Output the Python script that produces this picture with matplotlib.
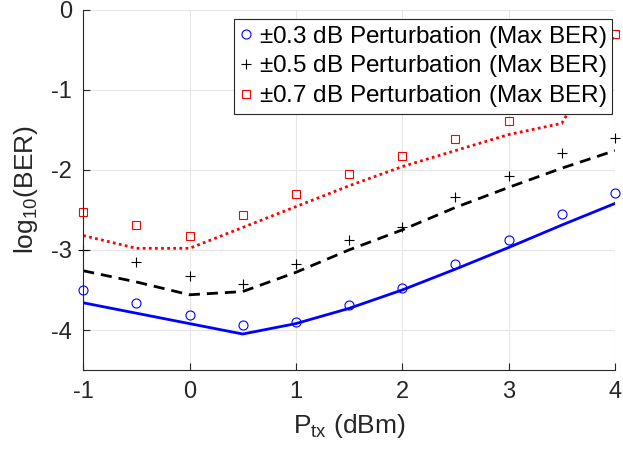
import matplotlib
matplotlib.use('Agg')
from matplotlib import pyplot as plt

plt.rcParams['font.family'] = ['Liberation Sans', 'DejaVu Sans']
plt.rcParams['mathtext.default'] = 'regular'
plt.rcParams['axes.unicode_minus'] = False

# transmit power (dBm)
p_tx = [-1, -0.5, 0, 0.5, 1, 1.5, 2, 2.5, 3, 3.5, 4]

# max BER points (log10)
ber_03 = [-3.50, -3.66, -3.81, -3.94, -3.90, -3.69, -3.47, -3.17, -2.88, -2.55, -2.29]
ber_05 = [-3.00, -3.15, -3.32, -3.43, -3.17, -2.88, -2.72, -2.34, -2.08, -1.79, -1.60]
ber_07 = [-2.53, -2.69, -2.83, -2.56, -2.30, -2.05, -1.83, -1.62, -1.39, -1.10, -0.30]

# curves
fit_03 = [-3.66, -3.79, -3.92, -4.05, -3.92, -3.73, -3.50, -3.24, -2.97, -2.69, -2.42]
fit_05 = [-3.26, -3.40, -3.56, -3.52, -3.28, -3.00, -2.75, -2.47, -2.22, -1.98, -1.76]
fit_07 = [-2.82, -2.98, -2.98, -2.72, -2.46, -2.20, -1.96, -1.76, -1.56, -1.42, -0.31]

fig = plt.figure(figsize=(6.23, 4.58), dpi=100)
ax = fig.add_axes([0.1335, 0.192, 0.8535, 0.787])

ax.plot(p_tx, fit_03, color='#0000ff', linewidth=2.0, linestyle='-')
ax.plot(p_tx, fit_05, color='black', linewidth=2.0, linestyle=(0, (4, 2.5)))
ax.plot(p_tx, fit_07, color='#ff0000', linewidth=2.0, linestyle=(0, (1, 1.2)))

ax.plot(p_tx, ber_03, 'o', color='#0000ff', markerfacecolor='none', markersize=6.5,
        markeredgewidth=0.8, label=r'$\pm$0.3 dB Perturbation (Max BER)', clip_on=False)
ax.plot(p_tx, ber_05, '+', color='black', markersize=7, markeredgewidth=0.8,
        label=r'$\pm$0.5 dB Perturbation (Max BER)', clip_on=False)
ax.plot(p_tx, ber_07, 's', color='#ff0000', markerfacecolor='none', markersize=5.5,
        markeredgewidth=0.8, label=r'$\pm$0.7 dB Perturbation (Max BER)', clip_on=False)

ax.set_xlim(-1, 4)
ax.set_ylim(-4.5, 0)
ax.set_xticks([-1, 0, 1, 2, 3, 4])
ax.set_yticks([-4, -3, -2, -1, 0])
ax.grid(True, color='#e6e6e6', linewidth=0.8)
ax.set_axisbelow(True)
ax.spines['top'].set_visible(False)
ax.spines['right'].set_visible(False)
for s in ['left', 'bottom']:
    ax.spines[s].set_color('#262626')
    ax.spines[s].set_linewidth(0.8)
ax.tick_params(direction='in', length=5, width=0.8, colors='#262626', labelsize=17, pad=8)

ax.set_xlabel(r'P$_{tx}$ (dBm)', fontsize=19, color='#262626', labelpad=6)
ax.set_ylabel(r'log$_{10}$(BER)', fontsize=19, color='#262626', labelpad=8)

leg = ax.legend(loc='upper right', bbox_to_anchor=(0.995, 0.974), fontsize=17.5,
                frameon=True, fancybox=False, framealpha=1, edgecolor='#262626',
                handlelength=0.6, handletextpad=0.25, borderpad=0.2, labelspacing=0.15,
                borderaxespad=0)
leg.get_frame().set_linewidth(0.8)
leg.set_zorder(10)

plt.savefig('out.png', dpi=100)
